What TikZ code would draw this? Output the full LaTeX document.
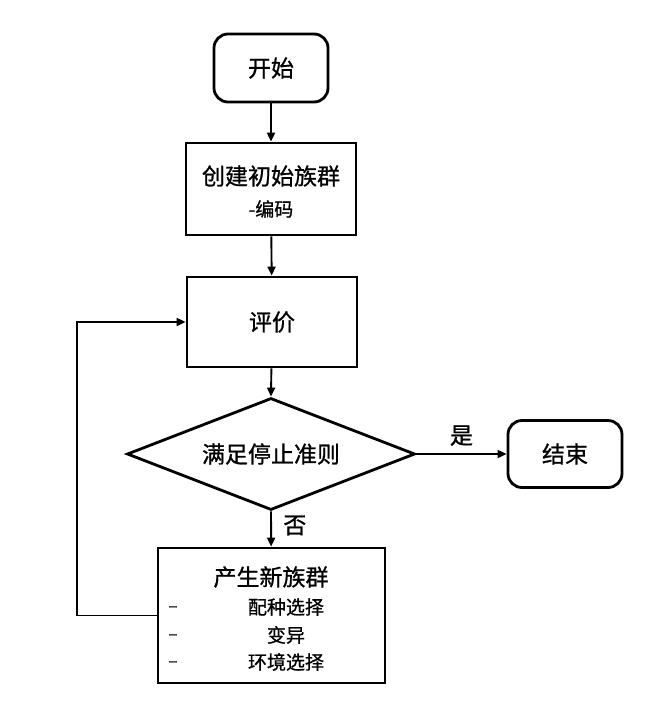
\documentclass[tikz,border=0pt]{standalone}
\usepackage{fontspec}
\setmainfont{Noto Sans CJK SC}[FakeBold=0.9]
\usetikzlibrary{shapes.geometric,arrows.meta,calc}
\begin{document}
\begin{tikzpicture}[x=1pt,y=-1pt,
  box/.style={draw=black,line width=2.8pt,inner sep=0pt,fill=white},
  term/.style={box,rounded corners=14pt},
  dec/.style={draw=black,line width=2.8pt,diamond,aspect=2.57,inner sep=0pt},
  arr/.style={line width=1.9pt,-{Triangle[length=9pt,width=8pt]}},
  big/.style={font=\fontsize{23}{26}\selectfont},
  small/.style={font=\fontsize{19}{22}\selectfont},
  dashmark/.style={font=\fontsize{17}{20}\selectfont}]
\path[use as bounding box,fill=white] (0,0) rectangle (646,705);
\node[term,big,minimum width=114pt,minimum height=68pt] (start) at (271,68) {开始};
\node[box,minimum width=170pt,minimum height=92pt] (init) at (271,189) {};
\node[big] (initt) at (271,176) {创建初始族群};
\node[small] (initc) at (271,209) {-编码};
\node[box,big,minimum width=170pt,minimum height=90pt] (eval) at (272,322) {评价};
\node[dec,big,minimum width=288pt,minimum height=112pt] (dec) at (271,454) {满足停止准则};
\node[term,big,minimum width=114pt,minimum height=67pt] (end) at (565,454) {结束};
\node[box,minimum width=227pt,minimum height=135pt] (gen) at (271.5,615.5) {};
\node[big] (gent) at (271,577) {产生新族群};
\node[small] (g1) at (286,607) {配种选择};
\node[small] (g2) at (286,635) {变异};
\node[small] (g3) at (286,662) {环境选择};
\node[dashmark] (d1) at (173,609) {–};
\node[dashmark] (d2) at (173,637) {–};
\node[dashmark] (d3) at (173,664) {–};
\draw[arr] (start) -- (init);
\draw[arr] (init) -- (eval);
\draw[arr] (eval) -- (dec.north);
\draw[arr] (dec.south) -- (gen) node[pos=0.4,right=8pt,big] (no) {否};
\draw[arr] (dec.east) -- (end) node[midway,above=4pt,big] (yes) {是};
\coordinate (lx) at (77,0);
\draw[arr] (gen.west) -- (gen.west -| lx) -- (eval.west -| lx) -- (eval.west);
\end{tikzpicture}
\end{document}
